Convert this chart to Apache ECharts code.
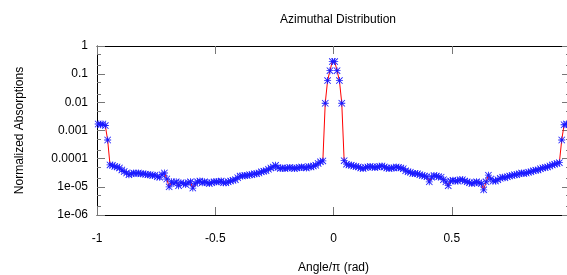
<!DOCTYPE html>
<html>
<head>
<meta charset="utf-8">
<script src="https://cdn.jsdelivr.net/npm/echarts@6/dist/echarts.min.js"></script>
<style>
  html, body { margin: 0; padding: 0; background: #fff; }
  #chart { width: 567px; height: 275px; }
</style>
</head>
<body>
<div id="chart"></div>
<script>
// bin centres, in units of pi
var angles = [
  -0.995, -0.985, -0.975, -0.965, -0.955, -0.945, -0.935, -0.925, -0.915, -0.905,
  -0.895, -0.885, -0.875, -0.865, -0.855, -0.845, -0.835, -0.825, -0.815, -0.805,
  -0.795, -0.785, -0.775, -0.765, -0.755, -0.745, -0.735, -0.725, -0.715, -0.705,
  -0.695, -0.685, -0.675, -0.665, -0.655, -0.645, -0.635, -0.625, -0.615, -0.605,
  -0.595, -0.585, -0.575, -0.565, -0.555, -0.545, -0.535, -0.525, -0.515, -0.505,
  -0.495, -0.485, -0.475, -0.465, -0.455, -0.445, -0.435, -0.425, -0.415, -0.405,
  -0.395, -0.385, -0.375, -0.365, -0.355, -0.345, -0.335, -0.325, -0.315, -0.305,
  -0.295, -0.285, -0.275, -0.265, -0.255, -0.245, -0.235, -0.225, -0.215, -0.205,
  -0.195, -0.185, -0.175, -0.165, -0.155, -0.145, -0.135, -0.125, -0.115, -0.105,
  -0.095, -0.085, -0.075, -0.065, -0.055, -0.045, -0.035, -0.025, -0.015, -0.005,
  0.005, 0.015, 0.025, 0.035, 0.045, 0.055, 0.065, 0.075, 0.085, 0.095,
  0.105, 0.115, 0.125, 0.135, 0.145, 0.155, 0.165, 0.175, 0.185, 0.195,
  0.205, 0.215, 0.225, 0.235, 0.245, 0.255, 0.265, 0.275, 0.285, 0.295,
  0.305, 0.315, 0.325, 0.335, 0.345, 0.355, 0.365, 0.375, 0.385, 0.395,
  0.405, 0.415, 0.425, 0.435, 0.445, 0.455, 0.465, 0.475, 0.485, 0.495,
  0.505, 0.515, 0.525, 0.535, 0.545, 0.555, 0.565, 0.575, 0.585, 0.595,
  0.605, 0.615, 0.625, 0.635, 0.645, 0.655, 0.665, 0.675, 0.685, 0.695,
  0.705, 0.715, 0.725, 0.735, 0.745, 0.755, 0.765, 0.775, 0.785, 0.795,
  0.805, 0.815, 0.825, 0.835, 0.845, 0.855, 0.865, 0.875, 0.885, 0.895,
  0.905, 0.915, 0.925, 0.935, 0.945, 0.955, 0.965, 0.975, 0.985, 0.995
];

var absorptions = [
  1.7e-3, 1.6e-3, 1.7e-3, 1.5e-3, 4.6e-4, 6.0e-5, 5.8e-5, 5.3e-5, 5.1e-5, 4.7e-5,
  4.0e-5, 3.5e-5, 3.1e-5, 2.7e-5, 2.9e-5, 3.1e-5, 3.0e-5, 3.1e-5, 2.9e-5, 2.9e-5,
  2.8e-5, 2.7e-5, 2.7e-5, 2.5e-5, 2.6e-5, 2.3e-5, 2.2e-5, 2.7e-5, 3.1e-5, 1.9e-5,
  1.0e-5, 1.5e-5, 1.3e-5, 1.5e-5, 1.1e-5, 1.4e-5, 1.3e-5, 1.2e-5, 1.4e-5, 1.5e-5,
  9.0e-6, 1.3e-5, 1.5e-5, 1.6e-5, 1.4e-5, 1.5e-5, 1.4e-5, 1.3e-5, 1.4e-5, 1.5e-5,
  1.5e-5, 1.5e-5, 1.6e-5, 1.4e-5, 1.4e-5, 1.5e-5, 1.6e-5, 1.7e-5, 1.8e-5, 2.1e-5,
  2.4e-5, 2.4e-5, 2.5e-5, 2.5e-5, 2.7e-5, 2.7e-5, 2.9e-5, 2.9e-5, 3.1e-5, 3.4e-5,
  3.6e-5, 3.7e-5, 4.2e-5, 4.7e-5, 5.1e-5, 5.8e-5, 4.9e-5, 4.5e-5, 4.7e-5, 4.5e-5,
  4.7e-5, 4.9e-5, 4.7e-5, 4.5e-5, 4.7e-5, 4.9e-5, 5.1e-5, 4.9e-5, 4.7e-5, 5.3e-5,
  5.1e-5, 5.5e-5, 5.8e-5, 6.8e-5, 7.7e-5, 8.3e-5, 9.3e-3, 5.9e-2, 1.33e-1, 2.8e-1,
  2.8e-1, 1.33e-1, 5.9e-2, 9.3e-3, 8.5e-5, 6.4e-5, 6.0e-5, 5.8e-5, 5.5e-5, 5.3e-5,
  5.1e-5, 4.7e-5, 4.5e-5, 4.9e-5, 5.1e-5, 5.3e-5, 5.1e-5, 4.9e-5, 5.1e-5, 5.3e-5,
  5.5e-5, 5.1e-5, 4.7e-5, 4.5e-5, 4.7e-5, 4.7e-5, 5.1e-5, 4.9e-5, 4.7e-5, 4.4e-5,
  3.7e-5, 3.4e-5, 3.3e-5, 3.0e-5, 3.0e-5, 2.9e-5, 2.7e-5, 2.5e-5, 2.4e-5, 2.3e-5,
  1.5e-5, 2.2e-5, 2.5e-5, 2.4e-5, 2.3e-5, 2.2e-5, 1.8e-5, 1.5e-5, 1.1e-5, 1.6e-5,
  1.7e-5, 1.6e-5, 1.6e-5, 1.8e-5, 1.8e-5, 1.6e-5, 1.5e-5, 1.4e-5, 1.3e-5, 1.4e-5,
  1.5e-5, 1.4e-5, 1.3e-5, 7.8e-6, 1.5e-5, 2.6e-5, 1.9e-5, 1.6e-5, 1.6e-5, 1.8e-5,
  2.0e-5, 2.2e-5, 2.1e-5, 2.3e-5, 2.4e-5, 2.5e-5, 2.7e-5, 2.7e-5, 2.9e-5, 3.1e-5,
  3.0e-5, 3.1e-5, 3.3e-5, 3.4e-5, 3.7e-5, 3.9e-5, 4.0e-5, 4.4e-5, 4.7e-5, 4.9e-5,
  5.1e-5, 5.5e-5, 6.0e-5, 6.4e-5, 6.8e-5, 7.2e-5, 4.6e-4, 1.6e-3, 1.7e-3, 1.6e-3
];

var xTickLabels = { '-1': '-1', '-0.5': '-0.5', '0': '0', '0.5': '0.5' };
var yTickLabels = ['1e-06', '1e-05', '0.0001', '0.001', '0.01', '0.1', '1'];
var yMinorTicks = [
  2e-6, 5e-6, 2e-5, 5e-5, 2e-4, 5e-4, 2e-3, 5e-3, 2e-2, 5e-2, 2e-1, 5e-1
];

var chart = echarts.init(document.getElementById('chart'));
var font = '"Liberation Sans", Arial, Helvetica, sans-serif';

var points = angles.map(function (a, i) { return [a, absorptions[i]]; });

// gnuplot-style asterisk (+ and x)
var star = 'path://M4.4,0h1.2v10h-1.2z M0,4.4h10v1.2h-10z ' +
  'M0,0.85L0.85,0L10,9.15L9.15,10z M9.15,0L10,0.85L0.85,10L0,9.15z';

function xAxisBase(pos, showLabels) {
  return {
    type: 'value', position: pos, min: -1, max: 1, interval: 0.5,
    axisLine: { show: true, onZero: false, lineStyle: { color: '#000', width: 1 } },
    axisTick: { show: true, inside: true, length: 8, lineStyle: { color: '#777', width: 1 } },
    splitLine: { show: false },
    axisLabel: {
      show: showLabels, margin: 18, color: '#000', fontSize: 12, fontFamily: font,
      showMaxLabel: false,
      formatter: function (v) { return xTickLabels[String(v)] || ''; }
    }
  };
}

function yAxisBase(pos, showLabels) {
  return {
    type: 'log', logBase: 10, position: pos, min: 1e-6, max: 1, interval: 1,
    axisLine: { show: true, onZero: false, lineStyle: { color: '#000', width: 1 } },
    axisTick: { show: true, inside: true, length: 8, lineStyle: { color: '#777', width: 1 } },
    splitLine: { show: false },
    axisLabel: {
      show: showLabels, margin: 9, color: '#000', fontSize: 12, fontFamily: font,
      formatter: function (v) {
        var k = Math.round(Math.log(v) / Math.LN10) + 6;
        return yTickLabels[k] || '';
      }
    }
  };
}

function yMinorAxis(pos) {
  return {
    type: 'log', logBase: 10, position: pos, min: 1e-6, max: 1,
    axisLine: { show: false, onZero: false },
    axisLabel: { show: false },
    splitLine: { show: false },
    axisTick: {
      show: true, inside: true, length: 4, customValues: yMinorTicks,
      lineStyle: { color: '#777', width: 1 }
    }
  };
}

var xBottom = xAxisBase('bottom', true);
xBottom.name = 'Angle/\u03c0 (rad)';
xBottom.nameLocation = 'middle';
xBottom.nameGap = 47;
xBottom.nameTextStyle = { color: '#000', fontSize: 12, fontFamily: font };

var yLeft = yAxisBase('left', true);
yLeft.name = 'Normalized Absorptions';
yLeft.nameLocation = 'middle';
yLeft.nameGap = 71;
yLeft.nameTextStyle = { color: '#000', fontSize: 12, fontFamily: font };

var option = {
  backgroundColor: '#fff',
  animation: false,
  title: {
    text: 'Azimuthal Distribution',
    left: 333, top: 9, textAlign: 'center',
    textStyle: { color: '#000', fontSize: 12, fontWeight: 'normal', fontFamily: font }
  },
  grid: {
    left: 97, top: 46, width: 473, height: 169,
    containLabel: false, outerBoundsMode: 'none'
  },
  xAxis: [xBottom, xAxisBase('top', false)],
  yAxis: [yLeft, yAxisBase('right', false), yMinorAxis('left'), yMinorAxis('right')],
  series: [{
    type: 'line',
    xAxisIndex: 0,
    yAxisIndex: 0,
    data: points,
    symbol: star,
    symbolSize: 7,
    showAllSymbol: true,
    clip: true,
    lineStyle: { color: '#ff0000', width: 1 },
    itemStyle: { color: '#1a1aff' },
    z: 3
  }]
};

chart.setOption(option);
</script>
</body>
</html>
